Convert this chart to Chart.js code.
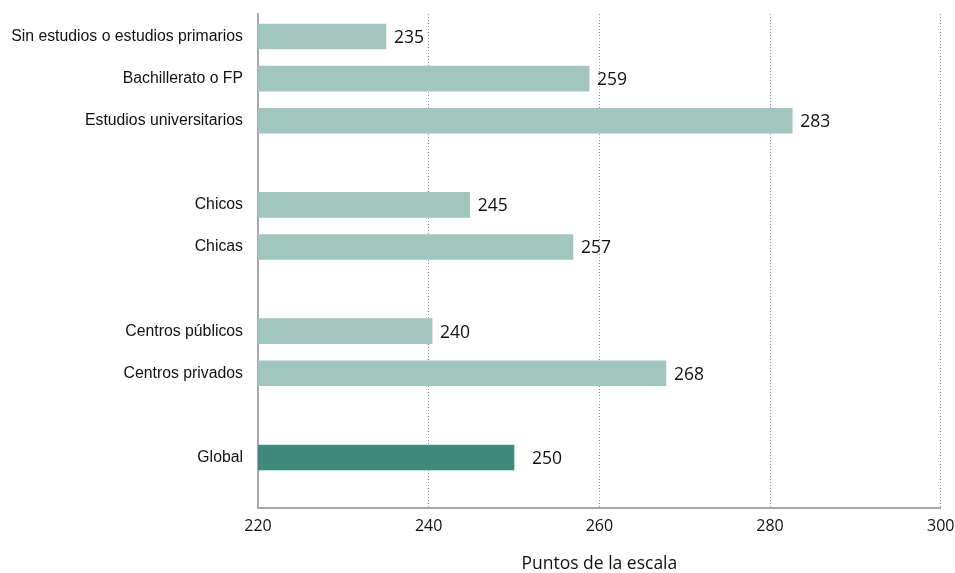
<!DOCTYPE html>
<html>
<head>
<meta charset="utf-8">
<script src="https://cdn.jsdelivr.net/npm/chart.js@4"></script>
<style>
  html, body { margin: 0; padding: 0; background: #ffffff; }
  #wrap { width: 955px; height: 573px; position: relative; }
</style>
</head>
<body>
<div id="wrap"><canvas id="c"></canvas></div>
<script>
// Category rows (blank strings are spacer rows between groups)
const categories = [
  'Sin estudios o estudios primarios',
  'Bachillerato o FP',
  'Estudios universitarios',
  '',
  'Chicos',
  'Chicas',
  '',
  'Centros públicos',
  'Centros privados',
  '',
  'Global'
];
// Score per row (null = spacer row)
const scores = [235, 258.8, 282.6, null, 244.8, 256.9, null, 240.4, 267.8, null, 250];
// Row that is highlighted (the overall score)
const highlightLabel = 'Global';
// X axis tick values
const xTicks = [220, 240, 260, 280, 300];
const xTitle = 'Puntos de la escala';

const lightColor = '#a2c5bd';
const darkColor = '#418a7b';

const points = [];
const colors = [];
categories.forEach((c, i) => {
  if (scores[i] !== null) {
    points.push({ x: scores[i], y: i });
    colors.push(c === highlightLabel ? darkColor : lightColor);
  }
});

const valueLabels = {
  id: 'valueLabels',
  afterDatasetsDraw(chart) {
    const ctx = chart.ctx;
    const meta = chart.getDatasetMeta(0);
    ctx.save();
    ctx.font = '17.5px "Open Sans"';
    ctx.fillStyle = '#111111';
    ctx.textAlign = 'left';
    ctx.textBaseline = 'middle';
    meta.data.forEach((el, k) => {
      const p = points[k];
      const isHi = categories[p.y] === highlightLabel;
      ctx.fillText(String(Math.round(p.x)), el.x + (isHi ? 18 : 8), el.y + 1.5);
    });
    ctx.restore();
  }
};

new Chart(document.getElementById('c'), {
  type: 'bar',
  data: {
    datasets: [{
      data: points,
      backgroundColor: colors,
      borderWidth: 0,
      barThickness: 25
    }]
  },
  options: {
    indexAxis: 'y',
    responsive: true,
    maintainAspectRatio: false,
    animation: false,
    layout: { padding: { top: 14, right: 0, left: 0, bottom: 0 } },
    plugins: {
      legend: { display: false },
      tooltip: { enabled: false }
    },
    scales: {
      x: {
        type: 'linear',
        min: xTicks[0],
        max: xTicks[xTicks.length - 1],
        afterBuildTicks: (scale) => { scale.ticks = xTicks.map(v => ({ value: v })); },
        afterFit: (scale) => {
          scale.height = 65;
          scale.paddingLeft = 0;
          scale.paddingRight = 14.3;
        },
        grid: {
          drawTicks: false,
          lineWidth: 1,
          color: (ctx) => (ctx.tick && ctx.tick.value === xTicks[0]) ? 'rgba(0,0,0,0)' : '#9a9a9a'
        },
        border: { display: true, color: '#a8a8a8', width: 2, dash: [1, 2] },
        ticks: {
          padding: 9,
          color: '#111111',
          font: { family: 'Open Sans', size: 16 }
        },
        title: {
          display: true,
          text: xTitle,
          color: '#111111',
          font: { family: 'Open Sans', size: 17.5, lineHeight: 1 },
          padding: { top: 0, bottom: 0 }
        }
      },
      y: {
        type: 'linear',
        reverse: true,
        offset: false,
        bounds: 'data',
        min: -0.535,
        max: 11.2,
        afterBuildTicks: (scale) => { scale.ticks = categories.map((c, i) => ({ value: i })); },
        afterFit: (scale) => {
          scale.width = 258;
          scale.paddingTop = 0;
          scale.paddingBottom = 0;
        },
        grid: { display: false, drawTicks: false, offset: false },
        border: { display: true, color: '#a8a8a8', width: 2 },
        ticks: {
          autoSkip: false,
          padding: 15,
          color: '#111111',
          font: { family: 'Liberation Sans', size: 15.8 },
          callback: (v) => categories[v] !== undefined ? categories[v] : ''
        }
      }
    }
  },
  plugins: [valueLabels]
});
</script>
</body>
</html>
